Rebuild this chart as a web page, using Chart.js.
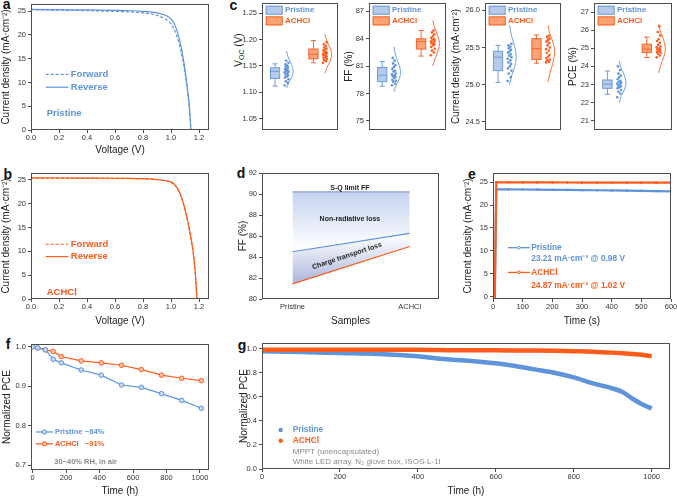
<!DOCTYPE html>
<html>
<head>
<meta charset="utf-8">
<title>Perovskite device figure</title>
<script src="https://cdn.jsdelivr.net/npm/chart.js@4.4.1/dist/chart.umd.min.js"></script>
<style>
  html, body { margin: 0; padding: 0; background: #fff; }
  body { position: relative; width: 677px; height: 496px; overflow: hidden; font-family: 'Liberation Sans', Arial, sans-serif; }
  canvas { position: absolute; }
  .tag { position: absolute; font-size: 14px; font-weight: bold; line-height: 1; color: #111; }
  .vtitle { position: absolute; font-size: 10px; line-height: 1; color: #222; white-space: nowrap; transform: translate(-50%, -50%) rotate(-90deg); }
  .vtitle sub { font-size: 7px; vertical-align: -2px; line-height: 0; }
</style>
</head>
<body>
<div class="tag" style="left:2.8px;top:-3.5px">a</div>
<div class="tag" style="left:3.5px;top:166.5px">b</div>
<div class="tag" style="left:229.4px;top:-2.4px">c</div>
<div class="tag" style="left:236.7px;top:166.2px">d</div>
<div class="tag" style="left:468px;top:166.8px">e</div>
<div class="tag" style="left:5.7px;top:336.5px">f</div>
<div class="tag" style="left:237.7px;top:338.3px">g</div>
<div class="vtitle" style="left:239px;top:50px">V<sub>OC</sub> (V)</div>
<script>
// ---------- data ----------
// a / b: J-V curves
const priVoltage = [0, 0.2, 0.4, 0.6, 0.7, 0.8, 0.85, 0.9, 0.95, 0.98, 1.0, 1.02, 1.04, 1.06, 1.08, 1.1, 1.12, 1.13, 1.142];
const priReverse = [25.35, 25.3, 25.25, 25.15, 25.08, 24.95, 24.85, 24.65, 24.25, 23.8, 23.3, 22.5, 21.1, 19.0, 16.2, 12.6, 8.0, 5.2, 0];
const priForward = [25.3, 25.2, 25.1, 24.95, 24.85, 24.65, 24.45, 24.1, 23.5, 22.9, 22.3, 21.3, 19.9, 17.9, 15.3, 11.9, 7.5, 4.8, 0];
const achVoltage = [0, 0.2, 0.4, 0.6, 0.8, 0.85, 0.9, 0.95, 1.0, 1.03, 1.06, 1.09, 1.12, 1.14, 1.16, 1.175, 1.185];
const achReverse = [25.45, 25.42, 25.4, 25.37, 25.3, 25.22, 25.1, 24.9, 24.6, 23.9, 22.5, 19.9, 16.3, 13.2, 9.5, 4.8, 0];
const achForward = [25.42, 25.4, 25.38, 25.35, 25.27, 25.19, 25.06, 24.85, 24.5, 23.8, 22.4, 19.8, 16.1, 13.0, 9.3, 4.6, 0];

// c: statistics, box = [min, q1, median, q3, max]
const groups = ['Pristine', 'ACHCl'];
const vocBox = [[1.112, 1.1265, 1.140, 1.1466, 1.154], [1.156, 1.1635, 1.172, 1.182, 1.198]];
const ffBox = [[78.8, 79.3, 80.0, 80.85, 81.5], [82.1, 82.87, 83.7, 84.0, 84.9]];
const jscBox = [[25.03, 25.19, 25.37, 25.45, 25.53], [25.29, 25.34, 25.485, 25.62, 25.67]];
const pceBox = [[22.46, 22.79, 23.02, 23.25, 23.75], [24.49, 24.76, 24.95, 25.23, 25.62]];
const vocPoints = [
  [1.113, 1.118, 1.121, 1.125, 1.128, 1.130, 1.132, 1.134, 1.136, 1.138, 1.139, 1.141, 1.142, 1.144, 1.145, 1.147, 1.149, 1.151, 1.153, 1.156, 1.160],
  [1.156, 1.159, 1.161, 1.163, 1.165, 1.167, 1.168, 1.170, 1.171, 1.172, 1.174, 1.175, 1.177, 1.179, 1.181, 1.183, 1.185, 1.188, 1.191, 1.195]
];
const ffPoints = [
  [78.9, 79.1, 79.3, 79.4, 79.5, 79.7, 79.8, 79.9, 80.0, 80.1, 80.2, 80.4, 80.5, 80.7, 80.9, 81.1, 81.3, 81.6, 81.9],
  [82.2, 82.5, 82.7, 82.9, 83.1, 83.3, 83.4, 83.5, 83.6, 83.7, 83.8, 83.9, 84.0, 84.1, 84.3, 84.5, 84.7, 84.9]
];
const jscPoints = [
  [25.05, 25.1, 25.15, 25.19, 25.22, 25.25, 25.28, 25.3, 25.33, 25.35, 25.37, 25.39, 25.41, 25.43, 25.45, 25.47, 25.49, 25.51, 25.53, 25.55],
  [25.30, 25.31, 25.33, 25.34, 25.36, 25.38, 25.40, 25.43, 25.46, 25.48, 25.50, 25.53, 25.56, 25.58, 25.60, 25.62, 25.64, 25.66]
];
const pcePoints = [
  [22.3, 22.5, 22.6, 22.7, 22.8, 22.85, 22.9, 22.95, 23.0, 23.05, 23.1, 23.15, 23.2, 23.3, 23.4, 23.5, 23.6, 23.8, 24.0],
  [24.5, 24.6, 24.7, 24.75, 24.8, 24.85, 24.9, 24.95, 25.0, 25.05, 25.1, 25.2, 25.3, 25.4, 25.5, 25.7, 25.9, 26.2]
];
// distribution outline: value levels, with relative widths in kdeShape
const kdeShape = [0, 0.35, 0.8, 1, 0.75, 0.3, 0];
const vocCurve = [[1.108, 1.119, 1.129, 1.140, 1.153, 1.165, 1.178], [1.136, 1.148, 1.160, 1.172, 1.185, 1.197, 1.210]];
const ffCurve = [[78.2, 78.9, 79.6, 80.3, 81.2, 82.1, 83.1], [81.0, 81.8, 82.7, 83.5, 84.3, 85.2, 86.0]];
const jscCurve = [[25.00, 25.13, 25.25, 25.38, 25.52, 25.66, 25.80], [25.03, 25.17, 25.31, 25.45, 25.57, 25.68, 25.80]];
const pceCurve = [[22.0, 22.4, 22.75, 23.1, 23.5, 23.9, 24.3], [23.65, 24.1, 24.55, 25.0, 25.45, 25.9, 26.35]];

// d: FF loss analysis
const samples = ['Pristine', 'ACHCl'];
const sqLimitFF = [90.2, 90.2];
const noNonRadFF = [84.5, 86.25];
const measuredFF = [81.45, 85.0];

// e: steady-state output
const mppTime = [0, 6, 11, 50, 100, 150, 200, 250, 300, 350, 400, 450, 500, 550, 600];
const priMppJ = [0, 0, 23.45, 23.42, 23.4, 23.38, 23.33, 23.3, 23.27, 23.23, 23.2, 23.15, 23.1, 23.05, 23.0];
const achMppJ = [0, 0, 24.98, 24.97, 24.96, 24.95, 24.94, 24.93, 24.92, 24.92, 24.91, 24.9, 24.9, 24.89, 24.88];

// f: stability in air
const airTime = [0, 30, 76, 123, 171, 290, 410, 531, 650, 770, 891, 1008];
const priAir = [1.0, 0.997, 0.992, 0.968, 0.959, 0.941, 0.928, 0.903, 0.897, 0.881, 0.864, 0.844];
const achAir = [1.0, 0.997, 0.992, 0.988, 0.975, 0.964, 0.959, 0.953, 0.942, 0.928, 0.920, 0.914];

// g: MPPT stability
const mpptTime = [0, 100, 200, 300, 400, 450, 500, 550, 600, 650, 700, 750, 800, 850, 900, 925, 950, 975, 1000];
const priMppt = [0.978, 0.972, 0.964, 0.956, 0.936, 0.919, 0.906, 0.894, 0.878, 0.856, 0.828, 0.800, 0.761, 0.711, 0.669, 0.640, 0.586, 0.539, 0.503];
const achMppt = [0.990, 0.990, 0.990, 0.990, 0.990, 0.988, 0.987, 0.986, 0.986, 0.985, 0.984, 0.982, 0.979, 0.975, 0.967, 0.962, 0.956, 0.949, 0.936];

// ---------- style ----------
const BLUE = '#5f93da', ORANGE = '#ff5b1a';
const BLUE_FILL = '#b6cbea', BLUE_EDGE = '#6f9bd8';
const ORANGE_FILL = '#fca275', ORANGE_EDGE = '#f4682a';
const AX = '#4d4d4d', TXT = '#222', GRAY = '#8a8a8a';
const FAM = "'Liberation Sans', Arial, sans-serif";
const font = (size, bold) => (bold ? 'bold ' : '') + size + 'px ' + FAM;
const jitter = [-0.05, 0.03, -0.02, 0.05, -0.04, 0.01, 0.04, -0.03, 0.02, -0.05, 0.05, -0.01, 0.03, -0.04, 0.0, 0.04, -0.02, 0.02, -0.03, 0.05, -0.01];

Chart.defaults.font.family = FAM;
Chart.defaults.color = '#333';

const pts = (xs, ys) => xs.map((x, i) => ({x, y: ys[i]}));

// box around the plotting area
const framePlugin = {
  id: 'frame',
  afterDraw(chart) {
    const {ctx, chartArea: a} = chart;
    ctx.save();
    ctx.strokeStyle = AX;
    ctx.lineWidth = 1;
    ctx.strokeRect(a.left + 0.5, a.top + 0.5, a.right - a.left - 1, a.bottom - a.top - 1);
    ctx.restore();
  }
};

// legend items and notes; data coords unless rel (px from chart area corner)
const extrasPlugin = {
  id: 'extras',
  afterDatasetsDraw(chart, args, opts) {
    const {ctx, chartArea: a, scales} = chart;
    const X = (v, rel) => rel ? a.left + v : scales.x.getPixelForValue(v);
    const Y = (v, rel) => rel ? a.top + v : scales.y.getPixelForValue(v);
    ctx.save();
    for (const s of opts.swatches || []) {
      ctx.fillStyle = s.fill; ctx.strokeStyle = s.stroke; ctx.lineWidth = 1;
      ctx.fillRect(X(s.x, true), Y(s.y, true), s.w, s.h);
      ctx.strokeRect(X(s.x, true) + 0.5, Y(s.y, true) + 0.5, s.w - 1, s.h - 1);
    }
    for (const l of opts.lines || []) {
      const y0 = Y(l.y), x1 = X(l.x1), x2 = X(l.x2);
      ctx.beginPath();
      ctx.strokeStyle = l.color; ctx.lineWidth = l.width || 1.2;
      ctx.setLineDash(l.dash || []);
      ctx.moveTo(x1, y0); ctx.lineTo(x2, y0); ctx.stroke();
      ctx.setLineDash([]);
      if (l.marker) {
        ctx.beginPath();
        ctx.fillStyle = l.markerFill || '#fff'; ctx.lineWidth = 1;
        ctx.arc((x1 + x2) / 2, y0, l.marker, 0, Math.PI * 2);
        ctx.fill(); ctx.stroke();
      }
    }
    for (const d of opts.dots || []) {
      ctx.beginPath(); ctx.fillStyle = d.color;
      ctx.arc(X(d.x), Y(d.y), d.r || 2, 0, Math.PI * 2); ctx.fill();
    }
    for (const t of opts.texts || []) {
      ctx.font = t.font; ctx.fillStyle = t.color || TXT;
      ctx.textAlign = t.align || 'left'; ctx.textBaseline = 'middle';
      const px = X(t.x, t.rel), py = Y(t.y, t.rel);
      if (t.rot) {
        ctx.save(); ctx.translate(px, py); ctx.rotate(t.rot); ctx.fillText(t.text, 0, 0); ctx.restore();
      } else {
        ctx.fillText(t.text, px, py);
      }
    }
    ctx.restore();
  }
};

// box-and-whisker drawn through the chart scales
const boxPlugin = {
  id: 'boxes',
  beforeDatasetsDraw(chart, args, opts) {
    const {ctx, scales: {x, y}} = chart;
    const P = v => y.getPixelForValue(v);
    ctx.save();
    for (const b of opts.items || []) {
      const [mn, q1, md, q3, mx] = b.stats;
      const xc = x.getPixelForValue(b.pos);
      const hw = x.getPixelForValue(b.pos + opts.width / 2) - xc;
      const cap = hw * 0.55;
      ctx.strokeStyle = b.stroke; ctx.lineWidth = 1;
      ctx.beginPath();
      ctx.moveTo(xc, P(mx)); ctx.lineTo(xc, P(q3));
      ctx.moveTo(xc, P(q1)); ctx.lineTo(xc, P(mn));
      ctx.moveTo(xc - cap, P(mx)); ctx.lineTo(xc + cap, P(mx));
      ctx.moveTo(xc - cap, P(mn)); ctx.lineTo(xc + cap, P(mn));
      ctx.stroke();
      ctx.fillStyle = b.fill;
      ctx.fillRect(xc - hw, P(q3), 2 * hw, P(q1) - P(q3));
      ctx.strokeRect(xc - hw, P(q3), 2 * hw, P(q1) - P(q3));
      ctx.beginPath(); ctx.moveTo(xc - hw, P(md)); ctx.lineTo(xc + hw, P(md)); ctx.stroke();
    }
    ctx.restore();
  }
};

function yAxis(min, max, step, fmt, title) {
  return {
    type: 'linear', min, max,
    border: {display: false},
    grid: {drawOnChartArea: false, drawTicks: true, tickLength: 3, color: AX},
    ticks: {stepSize: step, includeBounds: false, padding: 2, color: '#333', font: {size: 7.5}, callback: fmt},
    title: title ? {display: true, text: title, color: TXT, font: {size: 10}, padding: 0} : {display: false}
  };
}
function xAxis(min, max, step, fmt, title) {
  const ax = yAxis(min, max, step, fmt, title);
  ax.ticks.padding = 0;
  ax.ticks.maxRotation = 0;
  ax.ticks.autoSkip = false;
  return ax;
}

const PT = 12, PR = 14;
// rect = plot area [left, top, right, bottom] in page px
function panel(rect, canvasLeft, xTitleY, config) {
  const [L, T, R, B] = rect;
  const axW = L - canvasLeft;
  const axH = xTitleY == null ? 0 : xTitleY + 6 - B;
  const padB = xTitleY == null ? 10 : 0;
  const W = R - L + axW + PR, H = B - T + PT + axH + padB;
  const cv = document.createElement('canvas');
  cv.width = W; cv.height = H;
  cv.style.width = W + 'px'; cv.style.height = H + 'px';
  cv.style.left = canvasLeft + 'px'; cv.style.top = (T - PT) + 'px';
  document.body.appendChild(cv);
  const o = config.options;
  o.responsive = false;
  o.animation = false;
  o.devicePixelRatio = 1;
  o.layout = {padding: {top: PT, right: PR, left: 0, bottom: padB}};
  o.scales.y.afterFit = s => { s.width = axW; };
  if (o.scales.x.display !== false) o.scales.x.afterFit = s => { s.height = axH; };
  o.plugins = Object.assign({legend: {display: false}, tooltip: {enabled: false}}, o.plugins || {});
  config.plugins = [framePlugin, extrasPlugin].concat(config.plugins || []);
  return new Chart(cv, config);
}

const jvSet = (xs, ys, col, dash) => ({
  data: pts(xs, ys), borderColor: col, borderWidth: 1.2, borderDash: dash,
  pointRadius: 0, cubicInterpolationMode: 'monotone'
});
const jLabel = 'Current density (mA·cm⁻²)';

// ---------- a ----------
panel([31, 4, 209, 130], 0, 150, {
  type: 'line',
  data: {datasets: [jvSet(priVoltage, priReverse, BLUE, []), jvSet(priVoltage, priForward, BLUE, [3, 2])]},
  options: {
    scales: {x: xAxis(0, 1.271, 0.2, v => v.toFixed(1), 'Voltage (V)'), y: yAxis(0, 26.5, 5, v => v, jLabel)},
    plugins: {extras: {
      lines: [{x1: 0.105, x2: 0.266, y: 11.7, color: BLUE, dash: [3, 2]}, {x1: 0.105, x2: 0.266, y: 9.0, color: BLUE}],
      texts: [
        {x: 0.284, y: 11.7, text: 'Forward', color: BLUE, font: font(9.5, true)},
        {x: 0.284, y: 9.0, text: 'Reverse', color: BLUE, font: font(9.5, true)},
        {x: 0.112, y: 3.4, text: 'Pristine', color: BLUE, font: font(9.5, true)}
      ]
    }}
  }
});

// ---------- b ----------
panel([31, 173, 209, 299], 0, 321, {
  type: 'line',
  data: {datasets: [jvSet(achVoltage, achReverse, ORANGE, []), jvSet(achVoltage, achForward, ORANGE, [3, 2])]},
  options: {
    scales: {x: xAxis(0, 1.271, 0.2, v => v.toFixed(1), 'Voltage (V)'), y: yAxis(0, 26.47, 5, v => v, jLabel)},
    plugins: {extras: {
      lines: [{x1: 0.105, x2: 0.266, y: 11.5, color: ORANGE, dash: [3, 2]}, {x1: 0.105, x2: 0.266, y: 8.9, color: ORANGE}],
      texts: [
        {x: 0.284, y: 11.5, text: 'Forward', color: ORANGE, font: font(9.5, true)},
        {x: 0.284, y: 8.9, text: 'Reverse', color: ORANGE, font: font(9.5, true)},
        {x: 0.112, y: 1.3, text: 'ACHCl', color: ORANGE, font: font(9.5, true)}
      ]
    }}
  }
});

// ---------- c ----------
function boxPanel(rect, left, title, yMin, yMax, step, fmt, stats, points, curves) {
  const datasets = [];
  groups.forEach((g, k) => {
    const col = k ? ORANGE : BLUE;
    const base = k + 1.3;
    datasets.push({
      data: points[k].map((v, i) => ({x: base + jitter[i % jitter.length], y: v})),
      showLine: false, pointRadius: 1.3, pointBackgroundColor: col, pointBorderWidth: 0
    });
    datasets.push({
      data: curves[k].map((v, i) => ({x: base + kdeShape[i] * 0.17, y: v})),
      borderColor: col, borderWidth: 0.9, pointRadius: 0, tension: 0.45
    });
  });
  panel(rect, left, null, {
    type: 'line',
    data: {datasets},
    options: {
      scales: {x: {type: 'linear', display: false, min: 0.66, max: 2.64}, y: yAxis(yMin, yMax, step, fmt, title)},
      plugins: {
        boxes: {width: 0.24, items: [
          {pos: 1, stats: stats[0], fill: BLUE_FILL, stroke: BLUE_EDGE},
          {pos: 2, stats: stats[1], fill: ORANGE_FILL, stroke: ORANGE_EDGE}
        ]},
        extras: {
          swatches: [
            {x: 3.7, y: 2.7, w: 17, h: 9, fill: BLUE_FILL, stroke: BLUE_EDGE},
            {x: 3.7, y: 13.4, w: 17, h: 9, fill: ORANGE_FILL, stroke: ORANGE_EDGE}
          ],
          texts: [
            {x: 23, y: 7.2, rel: true, text: groups[0], color: BLUE, font: font(8, true)},
            {x: 23, y: 17.9, rel: true, text: groups[1], color: ORANGE, font: font(8, true)}
          ]
        }
      }
    },
    plugins: [boxPlugin]
  });
}
boxPanel([262, 3, 338, 130], 230, null, 1.029, 1.269, 0.05, v => v.toFixed(2), vocBox, vocPoints, vocCurve);
boxPanel([369, 3, 446, 130], 343, 'FF (%)', 74.0, 87.92, 3, v => v, ffBox, ffPoints, ffCurve);
boxPanel([485, 3, 561, 130], 450, jLabel, 24.39, 26.10, 0.5, v => v.toFixed(1), jscBox, jscPoints, jscCurve);
boxPanel([594, 3, 672, 130], 567, 'PCE (%)', 20.49, 27.5, 1, v => v, pceBox, pcePoints, pceCurve);

// ---------- d ----------
const samplePos = samples.map((s, i) => i);
const vGrad = (v0, c0, v1, c1) => ctx => {
  const ch = ctx.chart;
  if (!ch.chartArea) return 'transparent';
  const y = ch.scales.y;
  const g = ch.ctx.createLinearGradient(0, y.getPixelForValue(v0), 0, y.getPixelForValue(v1));
  g.addColorStop(0, c0); g.addColorStop(1, c1);
  return g;
};
const dX = xAxis(-0.26, 1.25, 1, v => samples[samplePos.indexOf(v)] || '', 'Samples');
dX.afterBuildTicks = s => { s.ticks = samplePos.map(v => ({value: v})); };
dX.grid.drawTicks = false;
dX.ticks.padding = 3;
panel([262, 173, 439, 299], 237, 321, {
  type: 'line',
  data: {datasets: [
    {data: pts(samplePos, sqLimitFF), borderColor: '#a9b7de', borderWidth: 2, pointRadius: 0},
    {data: pts(samplePos, noNonRadFF), borderColor: BLUE, borderWidth: 1.1, pointRadius: 0, fill: '-1',
      backgroundColor: vGrad(90.2, '#c4d2ee', 85.2, '#fbfcff')},
    {data: pts(samplePos, measuredFF), borderColor: ORANGE, borderWidth: 1.3, pointRadius: 0, fill: '-1',
      backgroundColor: vGrad(86.0, '#ffffff', 81.4, '#a9b3dc')}
  ]},
  options: {
    scales: {x: dX, y: yAxis(80, 92, 2, v => v, 'FF (%)')},
    plugins: {extras: {texts: [
      {x: 0.49, y: 90.6, text: 'S-Q limit FF', align: 'center', font: font(7, true)},
      {x: 0.49, y: 87.6, text: 'Non-radiative loss', align: 'center', font: font(7, true)},
      {x: 0.465, y: 84.1, text: 'Charge transport loss', align: 'center', rot: -0.32, font: font(7, true)}
    ]}}
  }
});

// ---------- e ----------
const mppSet = (ys, col) => ({
  data: pts(mppTime, ys), borderColor: col, borderWidth: 2.2, pointRadius: 1.3,
  pointBackgroundColor: col, pointBorderWidth: 0
});
panel([493, 173, 671, 299], 462, 321, {
  type: 'line',
  data: {datasets: [mppSet(achMppJ, ORANGE), mppSet(priMppJ, BLUE)]},
  options: {
    scales: {x: xAxis(0, 600, 100, v => v, 'Time (s)'), y: yAxis(-0.5, 27.0, 5, v => v, jLabel)},
    plugins: {extras: {
      lines: [
        {x1: 50, x2: 124, y: 10.7, color: BLUE, width: 1.3, marker: 1.5},
        {x1: 50, x2: 124, y: 5.3, color: ORANGE, width: 1.3, marker: 1.5}
      ],
      texts: [
        {x: 129, y: 10.7, text: groups[0], color: BLUE, font: font(8.3, true)},
        {x: 129, y: 8.2, text: '23.21 mA·cm⁻² @ 0.98 V', color: BLUE, font: font(8.3, true)},
        {x: 129, y: 5.3, text: groups[1], color: ORANGE, font: font(8.3, true)},
        {x: 129, y: 2.5, text: '24.87 mA·cm⁻² @ 1.02 V', color: ORANGE, font: font(8.3, true)}
      ]
    }}
  }
});

// ---------- f ----------
const airSet = (ys, col, light) => ({
  data: pts(airTime, ys), borderColor: col, borderWidth: 1.2, pointRadius: 2.3,
  pointBorderColor: col, pointBackgroundColor: light, pointBorderWidth: 1
});
panel([31, 344, 209, 470], 1, 491, {
  type: 'line',
  data: {datasets: [airSet(priAir, BLUE, '#c9daf3'), airSet(achAir, ORANGE, '#ffc3a6')]},
  options: {
    scales: {x: xAxis(-10, 1054, 200, v => v, 'Time (h)'), y: yAxis(0.6877, 1.0068, 0.1, v => v.toFixed(1), 'Normalized PCE')},
    plugins: {extras: {
      lines: [
        {x1: 18, x2: 123, y: 0.784, color: BLUE, width: 1.2, marker: 2.2, markerFill: '#c9daf3'},
        {x1: 18, x2: 123, y: 0.754, color: ORANGE, width: 1.2, marker: 2.2, markerFill: '#ffc3a6'}
      ],
      texts: [
        {x: 133, y: 0.784, text: groups[0], color: BLUE, font: font(7.5, true)},
        {x: 312, y: 0.784, text: '~84%', color: BLUE, font: font(7.5, true)},
        {x: 133, y: 0.754, text: groups[1], color: ORANGE, font: font(7.5, true)},
        {x: 312, y: 0.754, text: '~91%', color: ORANGE, font: font(7.5, true)},
        {x: 129, y: 0.707, text: '30~40% RH, in air', color: GRAY, font: font(7.5, true)}
      ]
    }}
  }
});

// ---------- g ----------
const mpptSet = (ys, col) => ({
  data: pts(mpptTime, ys), borderColor: col, borderWidth: 4.5, pointRadius: 0,
  cubicInterpolationMode: 'monotone'
});
panel([262, 343, 670, 469], 238, 491, {
  type: 'line',
  data: {datasets: [mpptSet(achMppt, ORANGE), mpptSet(priMppt, BLUE)]},
  options: {
    scales: {x: xAxis(0, 1047, 200, v => v, 'Time (h)'), y: yAxis(0, 1.047, 0.2, v => v.toFixed(1), 'Normalized PCE')},
    plugins: {extras: {
      dots: [{x: 48, y: 0.324, color: BLUE, r: 2.2}, {x: 48, y: 0.235, color: ORANGE, r: 2.2}],
      texts: [
        {x: 79, y: 0.324, text: groups[0], color: BLUE, font: font(8.3, true)},
        {x: 79, y: 0.235, text: groups[1], color: ORANGE, font: font(8.3, true)},
        {x: 79, y: 0.147, text: 'MPPT (unencapsulated)', color: GRAY, font: font(8, false)},
        {x: 79, y: 0.064, text: 'White LED array, N₂ glove box, ISOS-L-1I', color: GRAY, font: font(8, false)}
      ]
    }}
  }
});
</script>
</body>
</html>
